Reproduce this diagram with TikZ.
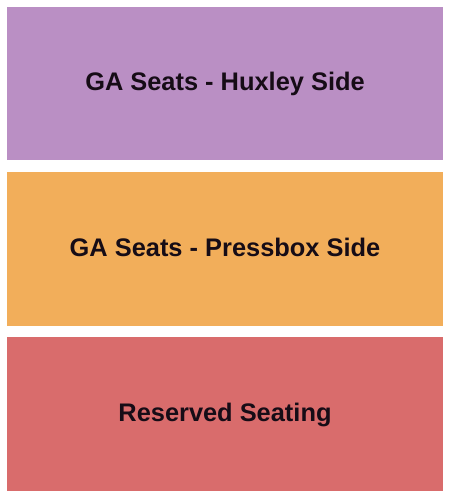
\documentclass[tikz,border=0pt]{standalone}
\usepackage{fontspec}
\setmainfont{Liberation Sans}
\definecolor{huxley}{HTML}{BA8FC4}
\definecolor{pressbox}{HTML}{F2AE5A}
\definecolor{reserved}{HTML}{D96C6C}
\definecolor{labeltext}{HTML}{160C16}
\begin{document}
\begin{tikzpicture}[x=1pt,y=-1pt,
  section/.style={draw=none,inner sep=0pt,outer sep=0pt,anchor=base,font=\bfseries\fontsize{25.4}{28}\selectfont,text=labeltext}]
\useasboundingbox (0,0) rectangle (450,497);
\fill[white] (0,0) rectangle (450,497);
\fill[huxley] (7,7) rectangle (443,160);
\fill[pressbox] (7,172) rectangle (443,326);
\fill[reserved] (7,337) rectangle (443,491);
\node[section] (hux) at (225,91) {GA Seats - Huxley Side};
\node[section] (press) at (225,256) {GA Seats - Pressbox Side};
\node[section] (res) at (225,421.5) {Reserved Seating};
\end{tikzpicture}
\end{document}
